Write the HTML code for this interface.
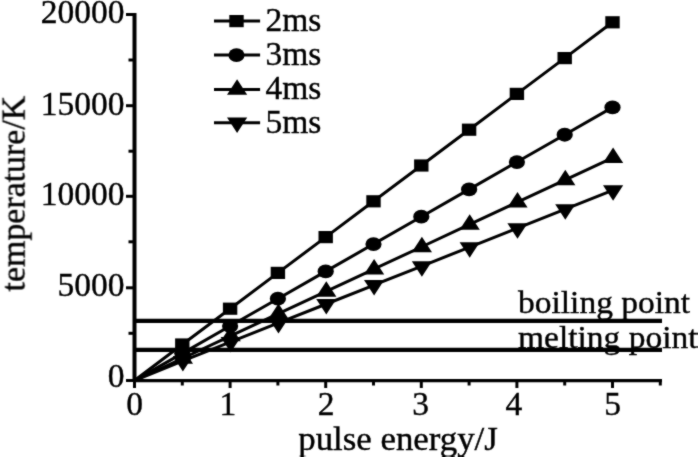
<!DOCTYPE html><html><head><meta charset="utf-8"><title>pulse energy vs temperature</title><style>html,body{margin:0;padding:0;background:#fff;width:700px;height:457px;overflow:hidden}svg{display:block;filter:grayscale(1)}text{font-family:"Liberation Serif", "Times New Roman", serif;fill:#000;stroke:#000;stroke-width:0.4px}</style></head><body>
<svg width="700" height="457" viewBox="0 0 700 457">
<defs><filter id="soft" x="0" y="0" width="100%" height="100%"><feConvolveMatrix order="3" kernelMatrix="1 2 1 2 16 2 1 2 1" preserveAlpha="false"/></filter></defs>
<rect width="700" height="457" fill="#fff"/>
<g filter="url(#soft)">
<g stroke="#000" stroke-width="4.3" fill="none">
<line x1="134.5" y1="320.9" x2="662" y2="320.9"/>
<line x1="134.5" y1="349.9" x2="662" y2="349.9"/>
</g>
<g stroke="#000" stroke-width="3.0" fill="none" stroke-linejoin="round">
<polyline points="134.50,380.50 182.30,344.50 230.10,308.70 277.90,272.90 325.70,237.10 373.50,201.30 421.30,165.50 469.10,129.70 516.90,93.90 564.70,58.10 612.50,22.30"/>
<polyline points="134.50,380.50 182.30,353.37 230.10,326.04 277.90,298.71 325.70,271.38 373.50,244.05 421.30,216.72 469.10,189.39 516.90,162.06 564.70,134.73 612.50,107.40"/>
<polyline points="134.50,380.50 182.30,358.50 230.10,336.20 277.90,313.90 325.70,291.60 373.50,269.30 421.30,247.00 469.10,224.70 516.90,202.40 564.70,180.10 612.50,157.80"/>
<polyline points="134.50,380.50 182.30,361.17 230.10,342.20 277.90,323.22 325.70,304.25 373.50,285.27 421.30,266.30 469.10,247.32 516.90,228.35 564.70,209.37 612.50,190.40"/>
</g>
<g fill="#000">
<rect x="175.10" y="338.40" width="14.4" height="12.2"/>
<rect x="222.90" y="302.60" width="14.4" height="12.2"/>
<rect x="270.70" y="266.80" width="14.4" height="12.2"/>
<rect x="318.50" y="231.00" width="14.4" height="12.2"/>
<rect x="366.30" y="195.20" width="14.4" height="12.2"/>
<rect x="414.10" y="159.40" width="14.4" height="12.2"/>
<rect x="461.90" y="123.60" width="14.4" height="12.2"/>
<rect x="509.70" y="87.80" width="14.4" height="12.2"/>
<rect x="557.50" y="52.00" width="14.4" height="12.2"/>
<rect x="605.30" y="16.20" width="14.4" height="12.2"/>
<ellipse cx="182.30" cy="353.37" rx="8.1" ry="6.9"/>
<ellipse cx="230.10" cy="326.04" rx="8.1" ry="6.9"/>
<ellipse cx="277.90" cy="298.71" rx="8.1" ry="6.9"/>
<ellipse cx="325.70" cy="271.38" rx="8.1" ry="6.9"/>
<ellipse cx="373.50" cy="244.05" rx="8.1" ry="6.9"/>
<ellipse cx="421.30" cy="216.72" rx="8.1" ry="6.9"/>
<ellipse cx="469.10" cy="189.39" rx="8.1" ry="6.9"/>
<ellipse cx="516.90" cy="162.06" rx="8.1" ry="6.9"/>
<ellipse cx="564.70" cy="134.73" rx="8.1" ry="6.9"/>
<ellipse cx="612.50" cy="107.40" rx="8.1" ry="6.9"/>
<polygon points="182.90,348.17 193.00,363.67 172.80,363.67"/>
<polygon points="230.70,325.87 240.80,341.37 220.60,341.37"/>
<polygon points="278.50,303.57 288.60,319.07 268.40,319.07"/>
<polygon points="326.30,281.27 336.40,296.77 316.20,296.77"/>
<polygon points="374.10,258.97 384.20,274.47 364.00,274.47"/>
<polygon points="421.90,236.67 432.00,252.17 411.80,252.17"/>
<polygon points="469.70,214.37 479.80,229.87 459.60,229.87"/>
<polygon points="517.50,192.07 527.60,207.57 507.40,207.57"/>
<polygon points="565.30,169.77 575.40,185.27 555.20,185.27"/>
<polygon points="613.10,147.47 623.20,162.97 603.00,162.97"/>
<polygon points="172.80,356.01 193.00,356.01 182.90,371.51"/>
<polygon points="220.60,337.03 240.80,337.03 230.70,352.53"/>
<polygon points="268.40,318.06 288.60,318.06 278.50,333.56"/>
<polygon points="316.20,299.08 336.40,299.08 326.30,314.58"/>
<polygon points="364.00,280.11 384.20,280.11 374.10,295.61"/>
<polygon points="411.80,261.13 432.00,261.13 421.90,276.63"/>
<polygon points="459.60,242.16 479.80,242.16 469.70,257.66"/>
<polygon points="507.40,223.18 527.60,223.18 517.50,238.68"/>
<polygon points="555.20,204.21 575.40,204.21 565.30,219.71"/>
<polygon points="603.00,185.23 623.20,185.23 613.10,200.73"/>
</g>
<g stroke="#000" stroke-width="3" fill="none">
<line x1="134.5" y1="13.0" x2="134.5" y2="382.0" stroke-width="4.0"/>
<line x1="133.0" y1="380.7" x2="662" y2="380.7" stroke-width="3.3"/>
<line x1="126" y1="14.5" x2="134.5" y2="14.5"/>
<line x1="128.5" y1="60.0" x2="134.5" y2="60.0"/>
<line x1="126" y1="105.7" x2="134.5" y2="105.7"/>
<line x1="128.5" y1="151.2" x2="134.5" y2="151.2"/>
<line x1="126" y1="196.3" x2="134.5" y2="196.3"/>
<line x1="128.5" y1="241.8" x2="134.5" y2="241.8"/>
<line x1="126" y1="287.8" x2="134.5" y2="287.8"/>
<line x1="128.5" y1="333.3" x2="134.5" y2="333.3"/>
<line x1="126" y1="380.5" x2="134.5" y2="380.5"/>
<line x1="134.50" y1="380.5" x2="134.50" y2="388"/>
<line x1="182.30" y1="380.5" x2="182.30" y2="385.5"/>
<line x1="230.10" y1="380.5" x2="230.10" y2="388"/>
<line x1="277.90" y1="380.5" x2="277.90" y2="385.5"/>
<line x1="325.70" y1="380.5" x2="325.70" y2="388"/>
<line x1="373.50" y1="380.5" x2="373.50" y2="385.5"/>
<line x1="421.30" y1="380.5" x2="421.30" y2="388"/>
<line x1="469.10" y1="380.5" x2="469.10" y2="385.5"/>
<line x1="516.90" y1="380.5" x2="516.90" y2="388"/>
<line x1="564.70" y1="380.5" x2="564.70" y2="385.5"/>
<line x1="612.50" y1="380.5" x2="612.50" y2="388"/>
<line x1="660.30" y1="380.5" x2="660.30" y2="385.5"/>
</g>
<line x1="214.0" y1="21.1" x2="260.1" y2="21.1" stroke="#000" stroke-width="3.0"/>
<g fill="#000"><rect x="229.30" y="15.00" width="14.4" height="12.2"/></g>
<line x1="214.0" y1="55.1" x2="260.1" y2="55.1" stroke="#000" stroke-width="3.0"/>
<g fill="#000"><ellipse cx="236.50" cy="55.10" rx="8.1" ry="6.9"/></g>
<line x1="214.0" y1="89.6" x2="260.1" y2="89.6" stroke="#000" stroke-width="3.0"/>
<g fill="#000"><polygon points="237.10,79.27 247.20,94.77 227.00,94.77"/></g>
<line x1="214.0" y1="122.7" x2="260.1" y2="122.7" stroke="#000" stroke-width="3.0"/>
<g fill="#000"><polygon points="227.00,117.53 247.20,117.53 237.10,133.03"/></g>
<text x="0" y="0" font-size="33.5" text-anchor="end" transform="translate(124.5,23.3) rotate(0.01)">20000</text>
<text x="0" y="0" font-size="33.5" text-anchor="end" transform="translate(124.5,114.6) rotate(0.01)">15000</text>
<text x="0" y="0" font-size="33.5" text-anchor="end" transform="translate(124.5,204.8) rotate(0.01)">10000</text>
<text x="0" y="0" font-size="33.5" text-anchor="end" transform="translate(124.5,296.4) rotate(0.01)">5000</text>
<text x="0" y="0" font-size="33.5" text-anchor="end" transform="translate(124.5,387.0) rotate(0.01)">0</text>
<text x="0" y="0" font-size="33.5" text-anchor="middle" transform="translate(134.50,415.3) rotate(0.01)">0</text>
<text x="0" y="0" font-size="33.5" text-anchor="middle" transform="translate(227.80,415.3) rotate(0.01)">1</text>
<text x="0" y="0" font-size="33.5" text-anchor="middle" transform="translate(326.20,415.3) rotate(0.01)">2</text>
<text x="0" y="0" font-size="33.5" text-anchor="middle" transform="translate(420.50,415.3) rotate(0.01)">3</text>
<text x="0" y="0" font-size="33.5" text-anchor="middle" transform="translate(513.90,415.3) rotate(0.01)">4</text>
<text x="0" y="0" font-size="33.5" text-anchor="middle" transform="translate(612.50,415.3) rotate(0.01)">5</text>
<text x="0" y="0" font-size="33.5" text-anchor="middle" transform="translate(24.6,193.6) rotate(-90) scale(1.012,1)">temperature/K</text>
<text x="0" y="0" font-size="33.5" text-anchor="middle" transform="translate(398,450) rotate(0.01) scale(1.04,1)">pulse energy/J</text>
<text x="0" y="0" font-size="33.5" transform="translate(518,313.1) rotate(0.01) scale(1,0.94)">boiling point</text>
<text x="0" y="0" font-size="33.5" transform="translate(518,347.6) rotate(0.01) scale(1,0.94)">melting point</text>
<text x="0" y="0" font-size="33.5" transform="translate(265.5,30.6) rotate(0.01)">2ms</text>
<text x="0" y="0" font-size="33.5" transform="translate(265.5,64.9) rotate(0.01)">3ms</text>
<text x="0" y="0" font-size="33.5" transform="translate(265.5,98.7) rotate(0.01)">4ms</text>
<text x="0" y="0" font-size="33.5" transform="translate(265.5,132.5) rotate(0.01)">5ms</text>
</g>
</svg></body></html>
